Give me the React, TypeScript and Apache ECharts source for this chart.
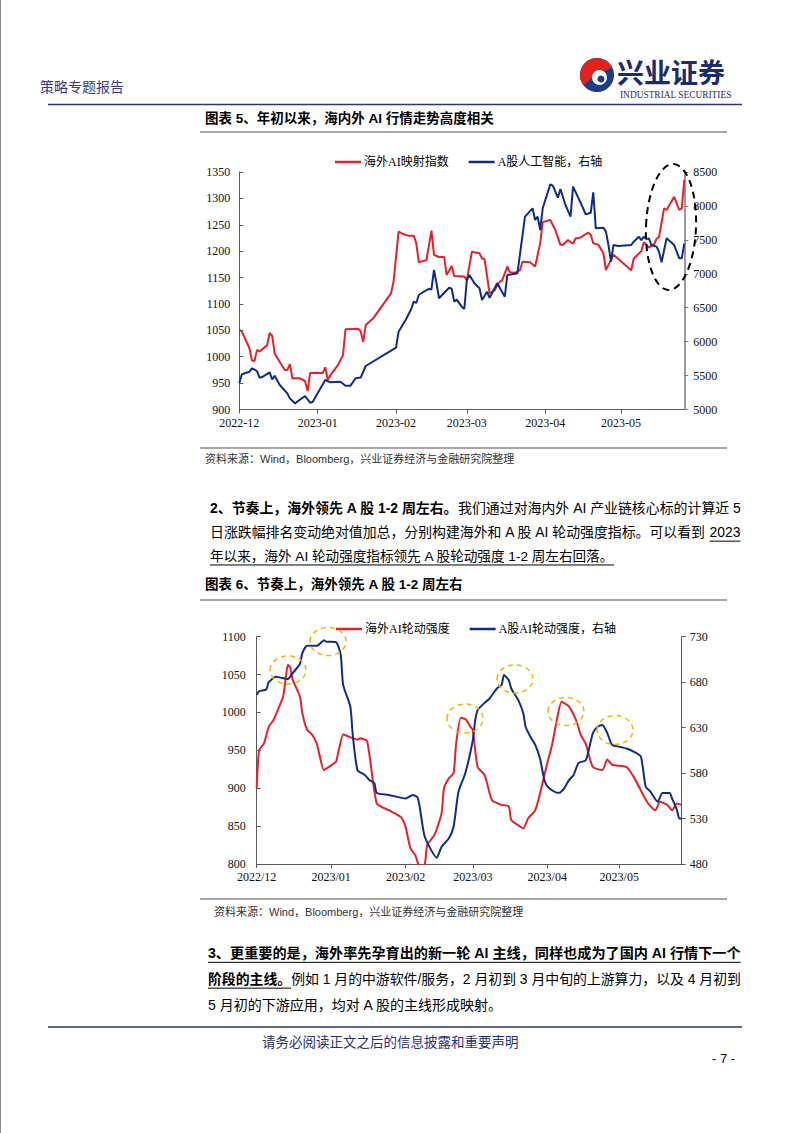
import React, { useEffect, useRef } from 'react';
import * as echarts from 'echarts';

// ---------- Chart 1 (图表5) ----------
const chart1Start = '2022-12-01';
const chart1End = '2023-05-26';
const overseasAIIndex: [string, number][] = [
  ['12-01', 1051], ['12-02', 1048], ['12-05', 1016], ['12-06', 993], ['12-07', 992], ['12-08', 1013],
  ['12-09', 1010], ['12-12', 1022], ['12-13', 1045], ['12-14', 1040], ['12-15', 1006], ['12-17', 990],
  ['12-19', 975], ['12-20', 975], ['12-21', 986], ['12-22', 959], ['12-25', 959], ['12-27', 954],
  ['12-28', 935], ['12-29', 969], ['01-03', 969], ['01-04', 980], ['01-05', 956], ['01-06', 965],
  ['01-09', 984], ['01-11', 1003], ['01-12', 1052], ['01-17', 1053], ['01-18', 1048], ['01-19', 1028],
  ['01-20', 1060], ['01-23', 1073], ['01-30', 1120], ['01-31', 1142], ['02-02', 1237], ['02-04', 1232],
  ['02-06', 1229], ['02-08', 1229], ['02-09', 1215], ['02-10', 1179], ['02-13', 1183], ['02-15', 1239],
  ['02-16', 1193], ['02-18', 1189], ['02-20', 1189], ['02-21', 1155], ['02-23', 1172], ['02-24', 1153],
  ['02-28', 1152], ['03-01', 1145], ['03-03', 1199], ['03-06', 1196], ['03-07', 1186], ['03-08', 1185],
  ['03-10', 1120], ['03-12', 1126], ['03-13', 1135], ['03-14', 1142], ['03-15', 1145], ['03-17', 1171],
  ['03-18', 1160], ['03-20', 1159], ['03-22', 1164], ['03-23', 1180], ['03-26', 1179], ['03-28', 1171],
  ['03-29', 1193], ['03-30', 1215], ['03-31', 1255], ['04-03', 1259], ['04-05', 1240], ['04-07', 1212],
  ['04-08', 1212], ['04-10', 1221], ['04-12', 1214], ['04-13', 1224], ['04-15', 1226], ['04-18', 1235],
  ['04-19', 1231], ['04-20', 1215], ['04-22', 1212], ['04-24', 1196], ['04-25', 1164], ['04-26', 1174],
  ['04-28', 1193], ['05-05', 1164], ['05-06', 1186], ['05-09', 1200], ['05-10', 1217], ['05-12', 1207],
  ['05-14', 1213], ['05-15', 1223], ['05-16', 1227], ['05-18', 1281], ['05-19', 1278], ['05-22', 1303],
  ['05-24', 1278], ['05-25', 1281], ['05-26', 1335],
];
const aShareAIIndex: [string, number][] = [
  ['12-01', 5386], ['12-02', 5519], ['12-05', 5557], ['12-06', 5607], ['12-08', 5567], ['12-09', 5469],
  ['12-10', 5478], ['12-13', 5548], ['12-14', 5445], ['12-15', 5498], ['12-17', 5361], ['12-20', 5238],
  ['12-21', 5164], ['12-23', 5091], ['12-27', 5199], ['12-29', 5100], ['12-30', 5110], ['01-04', 5435],
  ['01-06', 5401], ['01-10', 5409], ['01-12', 5351], ['01-14', 5351], ['01-16', 5460], ['01-18', 5470],
  ['01-20', 5641], ['02-01', 5911], ['02-02', 6147], ['02-05', 6334], ['02-07', 6481], ['02-08', 6589],
  ['02-09', 6570], ['02-10', 6687], ['02-12', 6736], ['02-14', 6776], ['02-15', 6770], ['02-16', 7056],
  ['02-17', 6860], ['02-18', 6639], ['02-22', 6795], ['02-23', 6780], ['02-24', 6589], ['02-25', 6620],
  ['02-27', 6515], ['02-28', 6481], ['03-01', 6908], ['03-02', 6982], ['03-04', 6860], ['03-06', 6786],
  ['03-07', 6614], ['03-09', 6736], ['03-10', 6645], ['03-13', 6860], ['03-16', 6663], ['03-17', 6982],
  ['03-21', 7007], ['03-24', 7842], ['03-27', 7965], ['03-28', 7793], ['03-29', 7842], ['03-30', 7645],
  ['03-31', 7965], ['04-03', 8318], ['04-04', 8298], ['04-06', 8122], ['04-07', 8250], ['04-09', 8014],
  ['04-11', 7842], ['04-12', 8284], ['04-14', 8125], ['04-16', 7965], ['04-17', 7876], ['04-19', 7900],
  ['04-20', 8200], ['04-21', 7670], ['04-24', 7680], ['04-25', 7621], ['04-26', 7424], ['04-27', 7178],
  ['04-28', 7424], ['04-30', 7410], ['05-05', 7424], ['05-06', 7473], ['05-08', 7547], ['05-09', 7497],
  ['05-10', 7547], ['05-11', 7512], ['05-12', 7522], ['05-13', 7424], ['05-15', 7400], ['05-16', 7326],
  ['05-17', 7169], ['05-19', 7523], ['05-22', 7424], ['05-24', 7228], ['05-25', 7228], ['05-26', 7449],
];
const chart1LeftTicks = { min: 900, max: 1350, interval: 50 };
const chart1RightTicks = { min: 5000, max: 8500, interval: 500 };

// ---------- Chart 2 (图表6) ----------
const chart2Start = '2022-12-01';
const chart2End = '2023-05-27';
const overseasRotation: [string, number][] = [
  ['12-01', 900], ['12-02', 950], ['12-04', 959], ['12-06', 981], ['12-08', 990], ['12-10', 1005],
  ['12-12', 1021], ['12-13', 1043], ['12-14', 1063], ['12-15', 1059], ['12-16', 1043], ['12-19', 1021],
  ['12-20', 999], ['12-22', 977], ['12-24', 971], ['12-26', 959], ['12-27', 946], ['12-29', 924],
  ['12-31', 928], ['01-03', 935], ['01-04', 948], ['01-06', 971], ['01-07', 970], ['01-10', 966],
  ['01-12', 964], ['01-13', 966], ['01-16', 962], ['01-20', 880], ['01-25', 871], ['01-30', 862],
  ['02-01', 849], ['02-03', 821], ['02-05', 812], ['02-07', 796], ['02-09', 800], ['02-10', 825],
  ['02-13', 838], ['02-16', 867], ['02-17', 900], ['02-19', 913], ['02-21', 920], ['02-22', 957],
  ['02-24', 993], ['02-26', 991], ['02-28', 981], ['03-01', 977], ['03-03', 928], ['03-06', 917],
  ['03-09', 884], ['03-13', 878], ['03-16', 876], ['03-17', 858], ['03-20', 851], ['03-22', 847],
  ['03-24', 860], ['03-27', 871], ['03-29', 893], ['04-01', 933], ['04-03', 957], ['04-05', 990],
  ['04-07', 1014], ['04-10', 1008], ['04-13', 990], ['04-15', 970], ['04-17', 959], ['04-20', 928],
  ['04-24', 924], ['04-26', 938], ['04-28', 931], ['05-04', 928], ['05-07', 915], ['05-11', 891],
  ['05-13', 880], ['05-16', 871], ['05-18', 882], ['05-21', 878], ['05-23', 871], ['05-25', 880],
  ['05-27', 878],
];
const aShareRotation: [string, number][] = [
  ['12-01', 666], ['12-02', 670], ['12-05', 672], ['12-06', 680], ['12-09', 686], ['12-11', 685],
  ['12-14', 683.5], ['12-16', 690], ['12-19', 700], ['12-20', 712], ['12-22', 720], ['12-26', 720],
  ['12-28', 724], ['12-29', 726], ['12-30', 724.5], ['01-03', 724], ['01-05', 710], ['01-06', 677],
  ['01-09', 653], ['01-10', 622], ['01-12', 583], ['01-15', 578], ['01-17', 572], ['01-19', 569],
  ['01-20', 558], ['01-25', 556], ['02-01', 552], ['02-04', 556], ['02-06', 553], ['02-07', 541],
  ['02-09', 510], ['02-14', 487], ['02-16', 499], ['02-19', 508], ['02-21', 521], ['02-23', 559],
  ['02-26', 581], ['03-01', 616], ['03-02', 638], ['03-03', 649], ['03-05', 655], ['03-08', 662],
  ['03-11', 673], ['03-13', 677], ['03-14', 688], ['03-16', 682], ['03-17', 673], ['03-20', 660],
  ['03-22', 646], ['03-23', 631], ['03-25', 620], ['03-27', 611], ['03-29', 596], ['03-31', 570.5],
  ['04-02', 563], ['04-05', 558.5], ['04-06', 558.5], ['04-08', 563], ['04-10', 572], ['04-12', 578],
  ['04-14', 591], ['04-17', 594], ['04-18', 602], ['04-20', 624], ['04-22', 631], ['04-24', 633],
  ['04-26', 624], ['04-28', 611], ['05-01', 609], ['05-04', 607], ['05-07', 603.5], ['05-10', 598],
  ['05-12', 565], ['05-14', 559.5], ['05-17', 548.5], ['05-19', 558], ['05-22', 558], ['05-23', 552],
  ['05-25', 539.5], ['05-26', 530], ['05-27', 530],
];
const chart2LeftTicks = { min: 800, max: 1100, interval: 50 };
const chart2RightTickValues = [480, 530, 580, 630, 680, 730];

// ---------- Names / texts ----------
const names1 = ['海外AI映射指数', 'A股人工智能，右轴'];
const names2 = ['海外AI轮动强度', 'A股AI轮动强度，右轴'];

const RED = '#E5222A';
const BLUE = '#102C86';
const CHART_FONT = "'Liberation Serif', 'Noto Sans CJK SC', serif";
const BODY = "'Liberation Sans', 'Noto Sans CJK SC', sans-serif";
const CJK = "'Noto Sans CJK SC', sans-serif";
const NAVY = '#2A2F7A';

function fullDate(md: string) {
  return (md.startsWith('12') ? '2022-' : '2023-') + md;
}
function dayList(start: string, end: string) {
  const out: string[] = [];
  const d = new Date(start + 'T00:00:00Z');
  const e = new Date(end + 'T00:00:00Z');
  while (d.getTime() <= e.getTime()) {
    out.push(d.toISOString().slice(0, 10));
    d.setUTCDate(d.getUTCDate() + 1);
  }
  return out;
}
function align(days: string[], pts: [string, number][]) {
  const m = new Map<string, number>();
  pts.forEach(([md, v]) => m.set(fullDate(md), v));
  return days.map((d) => (m.has(d) ? (m.get(d) as number) : null));
}

let measureCtx: CanvasRenderingContext2D | null = null;
function textWidth(t: string, size: number, bold: boolean, family: string) {
  if (!measureCtx) measureCtx = document.createElement('canvas').getContext('2d');
  if (!measureCtx) return t.length * size;
  measureCtx.font = `${bold ? 'bold ' : ''}${size}px ${family}`;
  return measureCtx.measureText(t).width;
}

type Seg = { t: string; b?: boolean; u?: boolean };
function lineEls(segs: Seg[], x0: number, y: number, baseSize: number, right?: number) {
  let size = baseSize;
  if (right) {
    const nat = segs.reduce((a, s) => a + textWidth(s.t, baseSize, !!s.b, BODY), 0);
    size = Math.max(baseSize * 0.93, Math.min(baseSize * 1.07, (baseSize * (right - x0)) / nat));
  }
  const els: any[] = [];
  let x = x0;
  segs.forEach((s) => {
    const w = textWidth(s.t, size, !!s.b, BODY);
    els.push({
      type: 'text', x, y, z: 50,
      style: { text: s.t, fontSize: size, fontFamily: BODY, fontWeight: s.b ? 'bold' : 'normal', fill: '#000', align: 'left', verticalAlign: 'middle' },
    });
    if (s.u) {
      els.push({ type: 'line', z: 50, shape: { x1: x, y1: y + size * 0.66, x2: x + w, y2: y + size * 0.66 }, style: { stroke: '#000', lineWidth: 1 } });
    }
    x += w;
  });
  return els;
}

function txt(text: string, x: number, y: number, size: number, opts: any = {}) {
  return {
    type: 'text', x, y, z: 50,
    style: {
      text, fontSize: size, fontFamily: opts.family || BODY, fontWeight: opts.bold ? 'bold' : 'normal',
      fill: opts.fill || '#000', align: opts.align || 'left', verticalAlign: 'middle',
    },
  };
}
function hline(x1: number, x2: number, y: number, color: string, w: number) {
  return { type: 'line', z: 40, shape: { x1, y1: y, x2, y2: y }, style: { stroke: color, lineWidth: w } };
}
function ellipse(cx: number, cy: number, rx: number, ry: number, color: string, w: number, dash: number[], rot = 0) {
  return {
    type: 'ellipse', x: cx, y: cy, rotation: rot, z: 60,
    shape: { cx: 0, cy: 0, rx, ry },
    style: { fill: 'none', stroke: color, lineWidth: w, lineDash: dash },
  };
}

function monthStart(_i: number, v: string) {
  return v.slice(8) === '01';
}

const App: React.FC = () => {
  const ref = useRef<HTMLDivElement>(null);
  useEffect(() => {
    if (!ref.current) return;
    const chart = echarts.init(ref.current, undefined, { renderer: 'svg', width: 802, height: 1133 });
    const days1 = dayList(chart1Start, chart1End);
    const days2 = dayList(chart2Start, chart2End);

    const axisLineStyle = { color: '#5a5a5a', width: 1 };
    const labelBase = { fontFamily: CHART_FONT, fontSize: 12, color: '#111' };
    const plain = (v: number) => String(v);

    const graphics: any[] = [
      { type: 'line', z: 40, shape: { x1: 0.5, y1: 0, x2: 0.5, y2: 1133 }, style: { stroke: '#888', lineWidth: 1 } },
      txt('策略专题报告', 40, 86, 14, { fill: '#3B3A8E', family: CJK }),
      // logo
      { type: 'circle', z: 50, shape: { cx: 597, cy: 75, r: 17 }, style: { fill: '#1E3B8A' } },
      { type: 'sector', z: 51, shape: { cx: 597, cy: 75, r0: 0, r: 17, startAngle: Math.PI * 0.8, endAngle: Math.PI * 1.85, clockwise: true }, style: { fill: '#E2231A' } },
      { type: 'circle', z: 52, shape: { cx: 599.5, cy: 77.5, r: 7.5 }, style: { fill: '#fff' } },
      { type: 'circle', z: 53, shape: { cx: 601, cy: 79, r: 3.5 }, style: { fill: '#1E3B8A' } },
      txt('兴业证券', 617, 71, 27, { bold: true, fill: '#1B2C6E', family: CJK }),
      txt('INDUSTRIAL SECURITIES', 620, 94.5, 9.4, { fill: '#1B2C6E', family: "'Liberation Serif', serif" }),
      hline(48, 742, 104.5, '#2B3572', 1.5),
      // chart 5 frame
      txt('图表 5、年初以来，海内外 AI 行情走势高度相关', 205, 118, 13.5, { bold: true }),
      hline(200, 727, 132, '#8a8a8a', 1.5),
      ellipse(671, 227, 25, 63, '#000', 2, [7, 5], -0.04),
      hline(200, 727, 448, '#8a8a8a', 1.5),
      txt('资料来源：Wind，Bloomberg，兴业证券经济与金融研究院整理', 205, 459, 11, { fill: '#333' }),
      // paragraph 2
      ...lineEls([{ t: '2、节奏上，海外领先 A 股 1-2 周左右。', b: true }, { t: '我们通过对海内外 AI 产业链核心标的计算近 5' }], 210, 508, 14, 741),
      ...lineEls([{ t: '日涨跌幅排名变动绝对值加总，分别构建海外和 A 股 AI 轮动强度指标。可以看到 ' }, { t: '2023', u: true }], 210, 532, 14, 741),
      ...lineEls([{ t: '年以来，海外 AI 轮动强度指标领先 A 股轮动强度 1-2 周左右回落。', u: true }], 210, 556, 13.6),
      // chart 6 frame
      txt('图表 6、节奏上，海外领先 A 股 1-2 周左右', 205, 584, 13.5, { bold: true }),
      hline(200, 727, 600, '#8a8a8a', 1.5),
      ellipse(288, 670, 18, 14, '#F5B400', 1.5, [5, 4]),
      ellipse(328, 641.5, 18, 14, '#F5B400', 1.5, [5, 4]),
      ellipse(465, 718.5, 18, 14.5, '#F5B400', 1.5, [5, 4]),
      ellipse(515, 679, 18, 14, '#F5B400', 1.5, [5, 4]),
      ellipse(566, 711.5, 18, 14, '#F5B400', 1.5, [5, 4]),
      ellipse(615, 730, 18, 14.5, '#F5B400', 1.5, [5, 4]),
      hline(200, 727, 899, '#8a8a8a', 1.5),
      txt('资料来源：Wind，Bloomberg，兴业证券经济与金融研究院整理', 214, 912, 11, { fill: '#333' }),
      // paragraph 3
      ...lineEls([{ t: '3、更重要的是，海外率先孕育出的新一轮 AI 主线，同样也成为了国内 AI 行情下一个', b: true, u: true }], 208, 953, 14, 741),
      ...lineEls([{ t: '阶段的主线。', b: true, u: true }, { t: '例如 1 月的中游软件/服务，2 月初到 3 月中旬的上游算力，以及 4 月初到' }], 208, 979, 14, 741),
      ...lineEls([{ t: '5 月初的下游应用，均对 A 股的主线形成映射。' }], 208, 1005, 14),
      // footer
      hline(48, 742, 1027, '#2B3572', 1.5),
      txt('请务必阅读正文之后的信息披露和重要声明', 262, 1041, 13.5, { fill: NAVY, family: CJK }),
      txt('- 7 -', 712, 1058, 13, { fill: '#111' }),
    ];

    const xAxisCommon = (days: string[], gridIndex: number, sep: string) => ({
      type: 'category', gridIndex, data: days, boundaryGap: false,
      axisLine: { show: true, lineStyle: axisLineStyle },
      axisTick: { show: true, interval: monthStart, length: 4, lineStyle: axisLineStyle },
      axisLabel: {
        ...labelBase, interval: monthStart, margin: 7,
        formatter: (v: string) => v.slice(0, 7).replace('-', sep),
      },
      splitLine: { show: false },
    });

    const yLeft = (gridIndex: number, t: any, margin: number) => ({
      type: 'value', gridIndex, position: 'left', ...t,
      axisLine: { show: true, lineStyle: axisLineStyle },
      axisTick: { show: true, inside: true, length: 4, lineStyle: axisLineStyle },
      axisLabel: { ...labelBase, margin, formatter: plain },
      splitLine: { show: false },
    });

    const legendBase = {
      icon: 'rect', itemWidth: 26, itemHeight: 2.5, itemGap: 20,
      textStyle: { fontFamily: CHART_FONT, fontSize: 12, color: '#000', padding: [0, 0, 0, -2] },
    };

    chart.setOption({
      animation: false,
      backgroundColor: '#ffffff',
      textStyle: { fontFamily: CHART_FONT },
      legend: [
        { ...legendBase, data: names1, left: 330, top: 151 },
        { ...legendBase, data: names2, left: 331, top: 618 },
      ],
      grid: [
        { left: 239.3, top: 172, width: 445, height: 237.5 },
        { left: 256.7, top: 636.7, width: 425, height: 227.3 },
      ],
      xAxis: [xAxisCommon(days1, 0, '-'), xAxisCommon(days2, 1, '/')],
      yAxis: [
        yLeft(0, chart1LeftTicks, 9),
        {
          type: 'value', gridIndex: 0, position: 'right', ...chart1RightTicks,
          axisLine: { show: true, lineStyle: { color: '#7a7a7a', width: 1.5 } },
          axisTick: { show: true, length: 4, lineStyle: { color: '#7a7a7a' } },
          axisLabel: { ...labelBase, margin: 9, formatter: plain },
          splitLine: { show: false },
        },
        yLeft(1, chart2LeftTicks, 11),
        {
          type: 'value', gridIndex: 1, position: 'right', min: 480, max: 730,
          axisLine: { show: true, lineStyle: axisLineStyle },
          axisTick: { show: true, length: 4, lineStyle: axisLineStyle, customValues: chart2RightTickValues },
          axisLabel: { ...labelBase, margin: 8, customValues: chart2RightTickValues, formatter: plain },
          splitLine: { show: false },
        },
      ],
      series: [
        {
          name: names1[0], type: 'line', xAxisIndex: 0, yAxisIndex: 0, data: align(days1, overseasAIIndex),
          connectNulls: true, symbol: 'none', lineStyle: { color: RED, width: 2 }, itemStyle: { color: RED },
        },
        {
          name: names1[1], type: 'line', xAxisIndex: 0, yAxisIndex: 1, data: align(days1, aShareAIIndex),
          connectNulls: true, symbol: 'none', lineStyle: { color: BLUE, width: 2 }, itemStyle: { color: BLUE },
        },
        {
          name: names2[0], type: 'line', xAxisIndex: 1, yAxisIndex: 2, data: align(days2, overseasRotation),
          connectNulls: true, symbol: 'none', smooth: 0.2, lineStyle: { color: RED, width: 2 }, itemStyle: { color: RED },
        },
        {
          name: names2[1], type: 'line', xAxisIndex: 1, yAxisIndex: 3, data: align(days2, aShareRotation),
          connectNulls: true, symbol: 'none', smooth: 0.2, lineStyle: { color: BLUE, width: 2 }, itemStyle: { color: BLUE },
        },
      ],
      graphic: { elements: graphics },
    });
    return () => chart.dispose();
  }, []);
  return <div ref={ref} style={{ position: 'absolute', left: 0, top: 0, width: 802, height: 1133, background: '#fff' }} />;
};

export default App;
